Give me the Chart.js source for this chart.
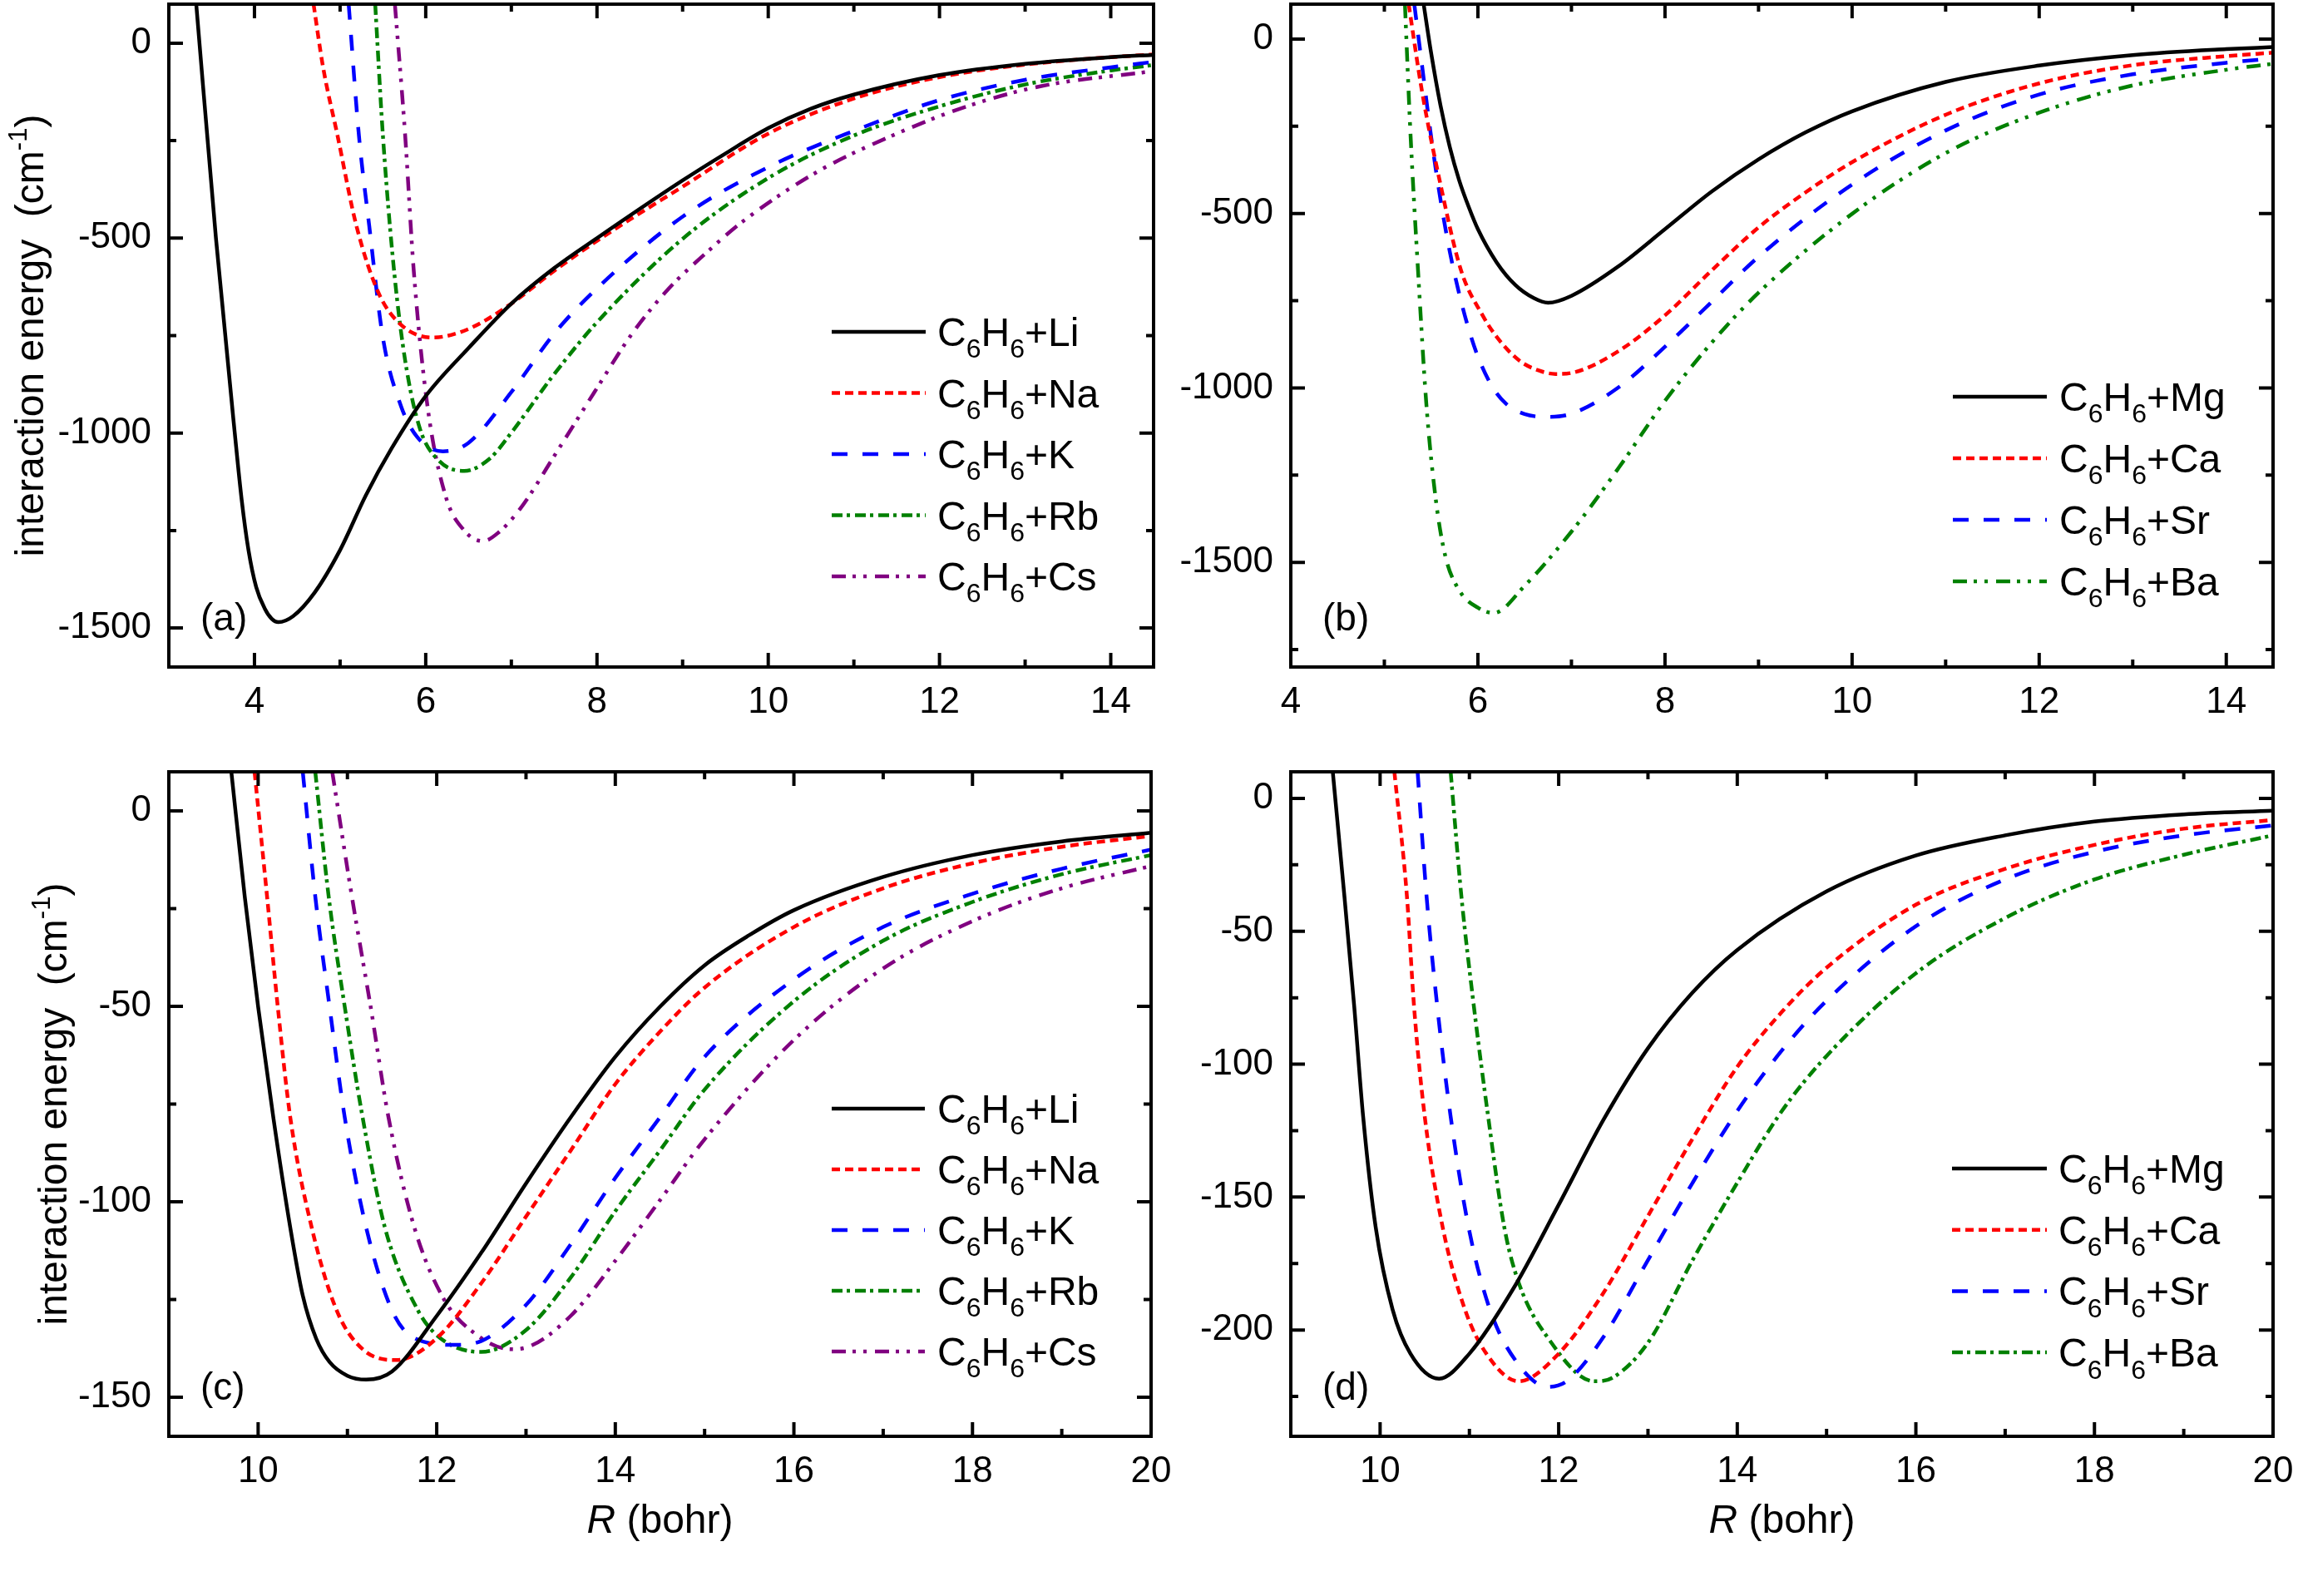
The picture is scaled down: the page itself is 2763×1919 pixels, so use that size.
<!DOCTYPE html>
<html>
<head>
<meta charset="utf-8">
<script src="https://cdn.jsdelivr.net/npm/chart.js@4.4.1/dist/chart.umd.min.js"></script>
<style>
  html, body { margin: 0; padding: 0; background: #fff; }
  #page { position: relative; width: 2763px; height: 1919px; overflow: hidden; background: #fff; }
  canvas { position: absolute; }
</style>
</head>
<body>
<div id="page">
  <canvas id="pa" width="1430" height="900" style="left:0;top:0"></canvas>
  <canvas id="pb" width="1363" height="900" style="left:1400px;top:0"></canvas>
  <canvas id="pc" width="1430" height="1039" style="left:0;top:880px"></canvas>
  <canvas id="pd" width="1363" height="1039" style="left:1400px;top:880px"></canvas>
</div>
<script>
// ---- data: [R (bohr), energy (cm-1)] ----
// (a) alkali, full range
const aLi = [[3.32,100],[3.55,-500],[3.77,-1000],[3.85,-1170],[3.93,-1300],[4.02,-1395],[4.12,-1450],[4.2,-1476],[4.28,-1485],[4.45,-1470],[4.7,-1410],[5.0,-1300],[5.3,-1160],[5.6,-1040],[6.0,-905],[6.5,-782],[7.0,-668],[7.5,-577],[8.0,-500],[9.0,-352],[9.5,-283],[10.0,-218],[10.5,-168],[11.0,-132],[12.0,-82],[13.0,-53],[14.0,-36],[14.5,-30]];
const aNa = [[4.69,100],[4.8,-60],[4.97,-237],[5.19,-468],[5.45,-641],[5.71,-722],[6.08,-755],[6.5,-733],[7.0,-668],[7.5,-584],[8.0,-507],[9.0,-368],[10.0,-232],[11.0,-142],[12.0,-87],[13.0,-55],[14.0,-36],[14.5,-29]];
const aK  = [[5.10,100],[5.22,-237],[5.34,-468],[5.5,-756],[5.71,-930],[5.9,-1010],[6.2,-1047],[6.5,-1025],[7.0,-895],[7.5,-745],[8.0,-629],[9.0,-445],[10.0,-318],[11.0,-225],[12.0,-146],[13.0,-94],[14.0,-62],[14.5,-48]];
const aRb = [[5.41,100],[5.5,-237],[5.63,-583],[5.76,-814],[5.93,-987],[6.15,-1070],[6.45,-1097],[6.75,-1065],[7.0,-999],[7.5,-849],[8.0,-716],[9.0,-502],[10.0,-346],[11.0,-237],[12.0,-162],[13.0,-106],[14.0,-70],[14.5,-56]];
const aCs = [[5.64,100],[5.76,-237],[5.86,-583],[6.02,-930],[6.23,-1160],[6.45,-1250],[6.67,-1277],[6.85,-1255],[7.1,-1195],[7.54,-1045],[7.97,-895],[8.41,-745],[8.84,-629],[9.28,-537],[9.71,-456],[10.58,-329],[11.45,-237],[12.32,-162],[13.19,-110],[14.38,-75],[14.5,-72]];
// (b) alkaline earth, full range
const bMg = [[5.42,100],[5.5,-40],[5.6,-190],[5.7,-310],[5.8,-405],[5.9,-480],[6.0,-545],[6.2,-640],[6.4,-705],[6.6,-743],[6.75,-756],[7.0,-736],[7.5,-652],[8.0,-545],[8.5,-437],[9.0,-345],[9.5,-268],[10.0,-207],[11.0,-123],[12.0,-76],[13.0,-46],[14.0,-29],[14.5,-23]];
const bCa = [[5.26,100],[5.4,-146],[5.59,-404],[5.82,-663],[6.05,-792],[6.21,-857],[6.44,-921],[6.65,-950],[6.83,-960],[7.0,-957],[7.5,-895],[8.0,-792],[8.5,-663],[9.0,-540],[9.5,-440],[10.0,-353],[11.0,-217],[12.0,-127],[13.0,-75],[14.0,-49],[14.5,-39]];
const bSr = [[5.32,100],[5.4,-70],[5.5,-280],[5.6,-460],[5.7,-610],[5.8,-730],[5.9,-830],[6.0,-910],[6.15,-995],[6.3,-1045],[6.5,-1075],[6.75,-1083],[7.0,-1074],[7.5,-999],[8.0,-882],[8.5,-753],[9.0,-624],[10.0,-417],[11.0,-262],[12.0,-159],[13.0,-101],[14.0,-68],[14.5,-56]];
const bBa = [[5.22,100],[5.28,-275],[5.36,-663],[5.45,-1050],[5.55,-1320],[5.65,-1480],[5.8,-1580],[6.0,-1630],[6.17,-1645],[6.5,-1567],[7.0,-1412],[7.5,-1231],[8.0,-1037],[8.5,-870],[9.0,-727],[10.0,-501],[11.0,-327],[12.0,-211],[13.0,-133],[14.0,-88],[14.5,-71]];
// (c) alkali, long range
const cLi = [[9.70,10],[9.85,-21.9],[10.0,-50.1],[10.17,-78.4],[10.36,-106.6],[10.5,-124],[10.65,-135],[10.8,-141],[11.0,-144.5],[11.21,-145.5],[11.5,-143.4],[12.0,-129.2],[12.5,-113],[13.0,-95.3],[13.5,-78.4],[14.0,-62.9],[14.5,-50.1],[15.0,-39.5],[15.5,-31.8],[16.0,-25.4],[17.0,-16.9],[18.0,-11.3],[19.0,-7.8],[20.0,-5.6]];
const cNa = [[9.96,10],[10.1,-21.9],[10.22,-50.1],[10.36,-78.4],[10.6,-106.6],[10.88,-127.8],[11.17,-137.7],[11.55,-140.5],[12.0,-134.9],[12.5,-120.8],[13.0,-103.8],[13.5,-86.9],[14.0,-69.9],[14.5,-56.5],[15.0,-45.2],[16.0,-29.7],[17.0,-19.8],[18.0,-13.4],[19.0,-9.2],[20.0,-6.4]];
const cK  = [[10.5,10],[10.64,-21.9],[10.8,-50.1],[10.97,-78.4],[11.21,-106.6],[11.5,-127.8],[11.75,-134.9],[12.2,-136.6],[12.5,-135.6],[13.0,-126.4],[13.5,-110.9],[14.0,-93.9],[14.5,-78.4],[15.0,-62.9],[16.0,-43.1],[17.0,-29.7],[18.0,-21.2],[19.0,-14.8],[20.0,-9.9]];
const cRb = [[10.64,10],[10.79,-21.9],[10.97,-50.1],[11.17,-78.4],[11.42,-106.6],[11.79,-127.8],[12.04,-134.9],[12.5,-138.4],[13.0,-132.8],[13.5,-119.4],[14.0,-102.4],[14.5,-86.9],[15.0,-71.3],[16.0,-48.7],[17.0,-33.2],[18.0,-23.3],[19.0,-16.2],[20.0,-11.3]];
const cCs = [[10.83,10],[11.05,-21.9],[11.26,-50.1],[11.46,-78.4],[11.75,-106.6],[12.08,-124.9],[12.41,-133.4],[12.83,-137.7],[13.0,-137.3],[13.5,-129.2],[14.0,-115.1],[14.5,-99.6],[15.0,-84],[16.0,-58.6],[17.0,-40.3],[18.0,-28.2],[19.0,-19.8],[20.0,-14.1]];
// (d) alkaline earth, long range
const dMg = [[9.47,10],[9.6,-36.7],[9.71,-78.2],[9.81,-119.7],[9.95,-161.2],[10.14,-192.3],[10.34,-208.9],[10.66,-218.3],[11.0,-208.9],[11.5,-184],[12.0,-152.9],[12.5,-121],[13.0,-94],[13.5,-73],[14.0,-57],[15.0,-35],[16.0,-21.5],[17.0,-13.9],[18.0,-8.7],[19.0,-6.0],[20.0,-4.6]];
const dCa = [[10.16,10],[10.3,-36.7],[10.38,-78.2],[10.5,-119.7],[10.7,-161.2],[10.95,-192.3],[11.19,-208.9],[11.55,-219.3],[12.0,-208.9],[12.5,-186.1],[13.0,-157.1],[13.5,-128],[14.0,-101],[14.5,-80.3],[15.0,-63.7],[16.0,-40],[17.0,-26.5],[18.0,-17.5],[19.0,-11.4],[20.0,-8.1]];
const dSr = [[10.42,10],[10.52,-36.7],[10.64,-78.2],[10.79,-119.7],[10.99,-161.2],[11.23,-192.3],[11.55,-213],[11.88,-221.4],[12.1,-219],[12.5,-202.7],[13.0,-173.7],[13.5,-144.6],[14.0,-117.6],[14.5,-94.8],[15.0,-76.1],[16.0,-48.1],[17.0,-30.5],[18.0,-20.1],[19.0,-13.9],[20.0,-10.2]];
const dBa = [[10.79,10],[10.91,-36.7],[11.05,-78.2],[11.21,-119.7],[11.39,-161.2],[11.55,-182],[11.88,-203],[12.4,-219.3],[12.6,-218],[13.0,-204.8],[13.5,-173.7],[14.0,-144.6],[14.5,-117.6],[15.0,-96.9],[16.0,-65.8],[17.0,-45],[18.0,-30.5],[19.0,-21.2],[20.0,-13.9]];

// tick labels
const xTicksTop = [4, 6, 8, 10, 12, 14];
const xTicksBottom = [10, 12, 14, 16, 18, 20];
const yTicksA = [-1500, -1000, -500, 0];
const yTicksB = [-1500, -1000, -500, 0];
const yTicksC = [-150, -100, -50, 0];
const yTicksD = [-200, -150, -100, -50, 0];

const alkaliLabels = ['C6H6+Li', 'C6H6+Na', 'C6H6+K', 'C6H6+Rb', 'C6H6+Cs'];
const earthLabels = ['C6H6+Mg', 'C6H6+Ca', 'C6H6+Sr', 'C6H6+Ba'];

const FONT = '"Liberation Sans", Arial, Helvetica, sans-serif';
const DASH = {
  solid: [],
  short: [10, 6],
  dash: [19, 18],
  dashDot: [13, 5, 4, 6],
  dashDotDot: [17, 8, 4, 9, 4, 10]
};

function series(label, data, color, dash) {
  return {
    label, data, borderColor: color, borderDash: dash, borderWidth: 4.5,
    fill: false, pointRadius: 0, cubicInterpolationMode: 'monotone', clip: 0
  };
}

// major + minor tick positions inside the axis range
function withMinor(maj, min, max) {
  const half = (maj[1] - maj[0]) / 2, out = [];
  for (let i = -1; i <= 2 * (maj.length - 1) + 1; i++) {
    const v = maj[0] + i * half;
    if (v > min + 1e-9 && v < max - 1e-9) out.push({ v, major: i % 2 === 0 });
  }
  return out;
}

function drawFormula(ctx, text, x, y, size) {
  let cx = x;
  for (const ch of text) {
    const sub = /\d/.test(ch);
    const s = sub ? Math.round(size * 0.66) : size;
    ctx.font = s + 'px ' + FONT;
    ctx.fillText(ch, cx, sub ? y + size * 0.3 : y);
    cx += ctx.measureText(ch).width;
  }
}

const panelDecor = {
  id: 'panelDecor',
  afterDraw(chart, args, o) {
    const { ctx, chartArea: a } = chart;
    const x = chart.scales.x, y = chart.scales.y;
    ctx.save();
    ctx.fillStyle = '#000';
    ctx.strokeStyle = '#000';
    ctx.setLineDash([]);
    ctx.lineCap = 'butt';

    // inward ticks on all four sides
    ctx.lineWidth = 4;
    ctx.beginPath();
    for (const t of withMinor(o.xTicks, x.min, x.max)) {
      const px = x.getPixelForValue(t.v), L = t.major ? 17 : 9;
      ctx.moveTo(px, a.bottom); ctx.lineTo(px, a.bottom - L);
      ctx.moveTo(px, a.top); ctx.lineTo(px, a.top + L);
    }
    for (const t of withMinor(o.yTicks, y.min, y.max)) {
      const py = y.getPixelForValue(t.v), L = t.major ? 17 : 9;
      ctx.moveTo(a.left, py); ctx.lineTo(a.left + L, py);
      ctx.moveTo(a.right, py); ctx.lineTo(a.right - L, py);
    }
    ctx.stroke();
    ctx.strokeRect(a.left, a.top, a.right - a.left, a.bottom - a.top);

    ctx.textAlign = 'left';
    ctx.textBaseline = 'alphabetic';

    // panel label
    ctx.font = '46px ' + FONT;
    ctx.fillText(o.tag, a.left + 38, a.bottom - 44);

    // y title with superscript
    if (o.yTitleX) {
      const parts = [['interaction energy  (cm', 48, 0], ['-1', 31, -20], [')', 48, 0]];
      ctx.save();
      ctx.translate(o.yTitleX, (a.top + a.bottom) / 2);
      ctx.rotate(-Math.PI / 2);
      let w = 0;
      parts.forEach(p => { ctx.font = p[1] + 'px ' + FONT; w += ctx.measureText(p[0]).width; });
      let cx = -w / 2;
      parts.forEach(p => {
        ctx.font = p[1] + 'px ' + FONT;
        ctx.fillText(p[0], cx, p[2]);
        cx += ctx.measureText(p[0]).width;
      });
      ctx.restore();
    }

    // x title with italic R
    if (o.xTitleY) {
      ctx.font = 'italic 48px ' + FONT;
      const w1 = ctx.measureText('R').width;
      ctx.font = '48px ' + FONT;
      const w2 = ctx.measureText(' (bohr)').width;
      const cx = (a.left + a.right) / 2 - (w1 + w2) / 2;
      ctx.font = 'italic 48px ' + FONT;
      ctx.fillText('R', cx, o.xTitleY);
      ctx.font = '48px ' + FONT;
      ctx.fillText(' (bohr)', cx + w1, o.xTitleY);
    }

    // legend
    const L = o.legend;
    chart.data.datasets.forEach((ds, i) => {
      const ly = L.y0 + i * L.dy;
      ctx.strokeStyle = ds.borderColor;
      ctx.lineWidth = 4.5;
      ctx.setLineDash(ds.borderDash || []);
      ctx.beginPath();
      ctx.moveTo(L.x0, ly); ctx.lineTo(L.x1, ly);
      ctx.stroke();
      ctx.setLineDash([]);
      ctx.fillStyle = '#000';
      drawFormula(ctx, ds.label, L.tx, ly + 17, 48);
    });
    ctx.restore();
  }
};

function noPad(s) {
  s.paddingTop = 0; s.paddingBottom = 0; s.paddingLeft = 0; s.paddingRight = 0;
}

function makePanel(id, p) {
  const tickFont = { family: FONT, size: 44 };
  return new Chart(document.getElementById(id), {
    type: 'line',
    data: { datasets: p.datasets },
    options: {
      responsive: false,
      animation: false,
      devicePixelRatio: 1,
      layout: { padding: { left: 0, top: p.padTop, right: p.padRight, bottom: 0 } },
      plugins: {
        legend: { display: false },
        tooltip: { enabled: false },
        panelDecor: p.decor
      },
      scales: {
        x: {
          type: 'linear', min: p.xMin, max: p.xMax,
          grid: { display: false, drawTicks: false },
          border: { display: false },
          ticks: { color: '#000', font: tickFont, padding: 16, autoSkip: false, maxRotation: 0, callback: v => String(v) },
          afterBuildTicks: s => { s.ticks = p.decor.xTicks.map(v => ({ value: v })); },
          afterFit: s => { s.height = p.xAxisH; noPad(s); }
        },
        y: {
          type: 'linear', min: p.yMin, max: p.yMax,
          grid: { display: false, drawTicks: false },
          border: { display: false },
          ticks: { color: '#000', font: tickFont, padding: 21, autoSkip: false, callback: v => String(v) },
          afterBuildTicks: s => { s.ticks = p.decor.yTicks.map(v => ({ value: v })); },
          afterFit: s => { s.width = p.yAxisW; noPad(s); }
        }
      }
    },
    plugins: [panelDecor]
  });
}

makePanel('pa', {
  xMin: 3, xMax: 14.5, yMin: -1600, yMax: 100,
  padTop: 5, padRight: 43, xAxisH: 98, yAxisW: 203,
  datasets: [
    series(alkaliLabels[0], aLi, '#000000', DASH.solid),
    series(alkaliLabels[1], aNa, '#FF0000', DASH.short),
    series(alkaliLabels[2], aK, '#0000FF', DASH.dash),
    series(alkaliLabels[3], aRb, '#008000', DASH.dashDot),
    series(alkaliLabels[4], aCs, '#800080', DASH.dashDotDot)
  ],
  decor: { tag: '(a)', xTicks: xTicksTop, yTicks: yTicksA, yTitleX: 52,
           legend: { x0: 1000, x1: 1113, tx: 1127, y0: 399, dy: 73.5 } }
});

makePanel('pb', {
  xMin: 4, xMax: 14.5, yMin: -1800, yMax: 100,
  padTop: 5, padRight: 30, xAxisH: 98, yAxisW: 152,
  datasets: [
    series(earthLabels[0], bMg, '#000000', DASH.solid),
    series(earthLabels[1], bCa, '#FF0000', DASH.short),
    series(earthLabels[2], bSr, '#0000FF', DASH.dash),
    series(earthLabels[3], bBa, '#008000', DASH.dashDotDot)
  ],
  decor: { tag: '(b)', xTicks: xTicksTop, yTicks: yTicksB,
           legend: { x0: 948, x1: 1061, tx: 1076, y0: 477, dy: 74 } }
});

makePanel('pc', {
  xMin: 9, xMax: 20, yMin: -160, yMax: 10,
  padTop: 48, padRight: 46, xAxisH: 192, yAxisW: 203,
  datasets: [
    series(alkaliLabels[0], cLi, '#000000', DASH.solid),
    series(alkaliLabels[1], cNa, '#FF0000', DASH.short),
    series(alkaliLabels[2], cK, '#0000FF', DASH.dash),
    series(alkaliLabels[3], cRb, '#008000', DASH.dashDot),
    series(alkaliLabels[4], cCs, '#800080', DASH.dashDotDot)
  ],
  decor: { tag: '(c)', xTicks: xTicksBottom, yTicks: yTicksC, yTitleX: 80, xTitleY: 963,
           legend: { x0: 1000, x1: 1112, tx: 1127, y0: 453, dy: 73 } }
});

makePanel('pd', {
  xMin: 9, xMax: 20, yMin: -240, yMax: 10,
  padTop: 48, padRight: 30, xAxisH: 192, yAxisW: 152,
  datasets: [
    series(earthLabels[0], dMg, '#000000', DASH.solid),
    series(earthLabels[1], dCa, '#FF0000', DASH.short),
    series(earthLabels[2], dSr, '#0000FF', DASH.dash),
    series(earthLabels[3], dBa, '#008000', DASH.dashDot)
  ],
  decor: { tag: '(d)', xTicks: xTicksBottom, yTicks: yTicksD, xTitleY: 963,
           legend: { x0: 947, x1: 1061, tx: 1075, y0: 525, dy: 73.7 } }
});
</script>
</body>
</html>
